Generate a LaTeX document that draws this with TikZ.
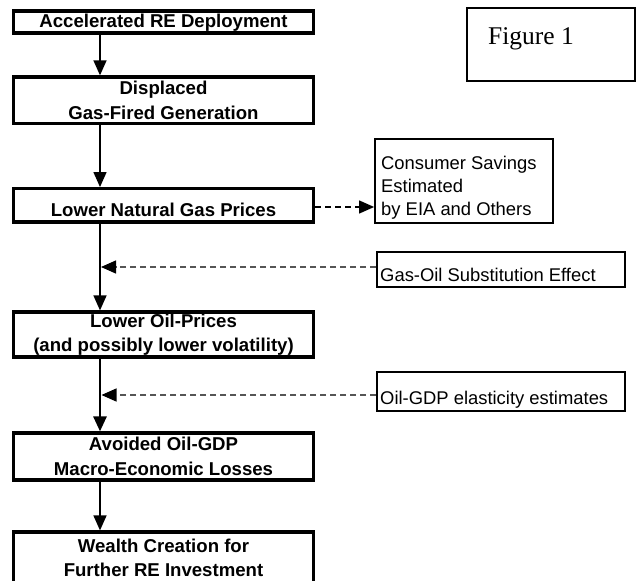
\documentclass[tikz,border=0pt]{standalone}
\usepackage{fontspec}
\setmainfont{Liberation Serif}
\setsansfont{Liberation Sans}
\usetikzlibrary{arrows.meta}
\definecolor{dashgray}{HTML}{555555}
\tikzset{
  mainbox/.style={draw, line width=3.2pt, minimum width=300pt, inner sep=0pt, align=center,
    font=\sffamily\bfseries\fontsize{18.6}{24.5}\selectfont},
  sidebox/.style={draw, line width=1.8pt, inner sep=0pt},
  sidetext/.style={anchor=base west, inner sep=0pt, align=left,
    font=\sffamily\fontsize{18.4}{23}\selectfont},
  flow/.style={line width=1.4pt, -{Triangle[length=15pt,width=13pt]}},
  thickflow/.style={line width=2.7pt, -{Triangle[length=15pt,width=13pt]}},
  feed/.style={draw=dashgray, line width=1.3pt, dash pattern=on 6pt off 4pt,
    -{Triangle[length=15pt,width=13pt,color=black,fill=black]}},
  feedblack/.style={feed, draw=black}
}
\begin{document}
\begin{tikzpicture}[x=1pt,y=-1pt]
\useasboundingbox (0,0) rectangle (636,580);
\clip (0,0) rectangle (636,580);
\fill[white] (0,0) rectangle (636,580);
% main column
\node[mainbox, minimum height=22pt, text height=15pt] (b1) at (163.5,22) {Accelerated RE Deployment};
\node[mainbox, minimum height=46.7pt] (b2) at (163.5,100.3) {Displaced\\Gas-Fired Generation};
\node[mainbox, minimum height=33.3pt, text height=21.6pt] (b3) at (163.5,205.3) {Lower Natural Gas Prices};
\node[mainbox, minimum height=45pt] (b4) at (163.5,334.5) {Lower Oil-Prices\\(and possibly lower volatility)};
\node[mainbox, minimum height=47pt] (b6) at (163.5,456.5) {Avoided Oil-GDP\\Macro-Economic Losses};
\node[mainbox, minimum height=62pt, text depth=10pt] (b7) at (163.5,563) {Wealth Creation for\\Further RE Investment};
% figure label
\node[sidebox, line width=1.4pt, minimum width=168pt, minimum height=73pt] (fig) at (551,44.5) {};
\node[anchor=base west, inner sep=0pt, font=\rmfamily\fontsize{25.5}{30}\selectfont] (figtxt) at (488,45) {Figure 1};
% side boxes
\node[sidebox, minimum width=178pt, minimum height=84pt] (cons) at (464,181) {};
\node[sidetext] (constxt) at (381,215) {Consumer Savings\\Estimated\\by EIA and Others};
\node[sidebox, minimum width=248pt, minimum height=35pt] (gas) at (501,269.5) {};
\node[sidetext] (gastxt) at (380,281) {Gas-Oil Substitution Effect};
\node[sidebox, minimum width=248pt, minimum height=39pt] (gdp) at (501,391.5) {};
\node[sidetext] (gdptxt) at (380,404) {Oil-GDP elasticity estimates};
% spine coordinates
\coordinate (ax) at (100,0);
\coordinate (y1) at (0,267);
\coordinate (y2) at (0,395);
\coordinate (y3) at (0,207);
% main flow
\draw[flow] (b1.south -| ax) -- (b2.north -| ax);
\draw[flow] (b2.south -| ax) -- (b3.north -| ax);
\draw[flow] (b3.south -| ax) -- (b4.north -| ax);
\draw[thickflow] (b4.south -| ax) -- (b6.north -| ax);
\draw[flow] (b6.south -| ax) -- (b7.north -| ax);
% dashed feeds
\draw[feedblack] (b3.east |- y3) -- (cons.west |- y3);
\draw[feed] (gas.west |- y1) -- ([xshift=1pt]ax |- y1);
\draw[feed] (gdp.west |- y2) -- ([xshift=1.5pt]ax |- y2);
\end{tikzpicture}
\end{document}
